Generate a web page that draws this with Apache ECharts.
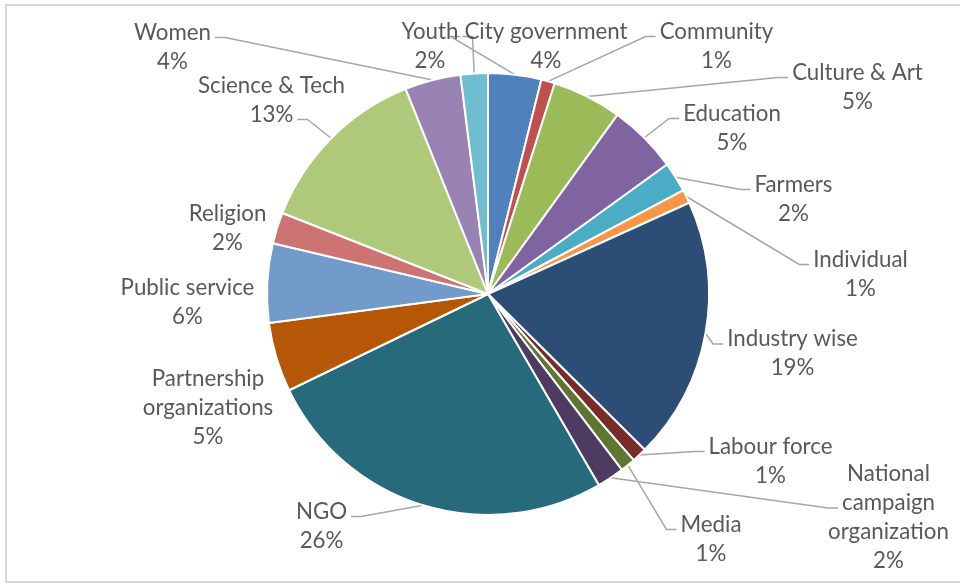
<!DOCTYPE html>
<html>
<head>
<meta charset="utf-8">
<script src="https://cdn.jsdelivr.net/npm/echarts@6/dist/echarts.min.js"></script>
<style>
html,body{margin:0;padding:0;background:#fff;}
#chart{width:960px;height:584px;}
</style>
</head>
<body>
<div id="chart"></div>
<script>
// ---- Data (percent of total) ----
const categories = ['City government','Community','Culture & Art','Education','Farmers','Individual','Industry wise','Labour force','Media','National campaign organization','NGO','Partnership organizations','Public service','Religion','Science & Tech','Women','Youth'];
const shares = [3.9, 1.0, 5.1, 5.1, 2.2, 1.0, 19.3, 1.1, 1.1, 2.0, 26.3, 5.1, 5.8, 2.3, 13.0, 4.1, 2.0];

// ---- Styling / layout (kept separate from data) ----
const colors = ['#4F81BD','#C0504D','#9BBB59','#8064A2','#4BACC6','#F79646','#2C4D75','#772C2A','#5F7530','#4D3B62','#276A7C','#B65708','#729ACA','#CD7371','#AFC97A','#9983B5','#6FBDD1'];
const wrapNames = {'National campaign organization':['National','campaign','organization'],'Partnership organizations':['Partnership','organizations']};
// label centre offsets from the pie centre (px), like Excel's dragged labels
const labelOffsets = [[58,-248],[228.5,-248],[369.5,-207],[244,-166],[305.5,-95],[372.5,-20],[304.5,59.5],[282.5,167],[223,245],[400.5,223.5],[-166.5,232],[-280,114],[-300.5,8.5],[-260.5,-66],[-216.5,-194],[-315.5,-247],[-58,-248]];
const showLeader = [true,true,true,true,true,true,true,true,true,true,true,false,false,false,true,true,true];

const CX = 488, CY = 294, R = 221;
const FONT_SIZE = 22.3, LH = 29, FONT_FAMILY = 'Lato';
const ctx = document.createElement('canvas').getContext('2d');
ctx.font = FONT_SIZE + 'px ' + FONT_FAMILY;
function measure(t){ return ctx.measureText(t).width; }
function nameLines(name){ return wrapNames[name] ? wrapNames[name].slice() : [name]; }

const total = shares.reduce((a,b)=>a+b,0);
const data = categories.map((c,i)=>({name:c, value:shares[i], itemStyle:{color:colors[i]}}));

const chart = echarts.init(document.getElementById('chart'), null, {renderer:'canvas'});
chart.setOption({
  animation:false,
  backgroundColor:'#fff',
  graphic:[{type:'rect', shape:{x:6,y:5,width:1000,height:577}, style:{fill:'none', stroke:'#D9D9D9', lineWidth:2}, silent:true}],
  series:[{
    type:'pie',
    center:[CX,CY],
    radius:R,
    startAngle:90,
    clockwise:true,
    avoidLabelOverlap:false,
    itemStyle:{borderColor:'#fff', borderWidth:2},
    label:{
      show:true, position:'outer', color:'#595959', fontFamily:FONT_FAMILY, fontSize:FONT_SIZE, lineHeight:LH,
      formatter: p => nameLines(p.name).concat([Math.round(p.percent)+'%']).join('\n')
    },
    labelLine:{show:true, length:10, length2:10, lineStyle:{color:'#A6A6A6', width:1.5}},
    labelLayout: function(p){
      const i = p.dataIndex;
      const off = labelOffsets[i];
      const lx = CX + off[0], ly = CY + off[1];
      const lines = nameLines(categories[i]).concat([Math.round(shares[i]/total*100)+'%']);
      const n = lines.length;
      const top = ly - n*LH/2, bottom = top + n*LH;
      const widths = lines.map(measure);
      const half = Math.max.apply(null, widths)/2;
      let anchor = p.labelLinePoints && p.labelLinePoints[0];
      const res = {x:lx, y:ly, align:'center', verticalAlign:'middle'};
      if (!anchor) return res;
      if (!showLeader[i]) { res.labelLinePoints = [anchor.slice(), anchor.slice(), anchor.slice()]; return res; }
      const side = anchor[0] > lx ? 1 : -1;
      const gapX = side > 0 ? anchor[0] - (lx + half) : (lx - half) - anchor[0];
      let li = 0;
      if (anchor[1] > bottom && gapX < 60) li = n - 1;
      else if (n > 3) li = 1;
      const ax = lx + side*(widths[li]/2 + 4);
      const ay = top + li*LH + LH/2 + 5;
      const sx = ax + side*10;
      res.labelLinePoints = [anchor.slice(), [sx, ay], [ax, ay]];
      return res;
    },
    data:data
  }]
});
</script>
</body>
</html>
